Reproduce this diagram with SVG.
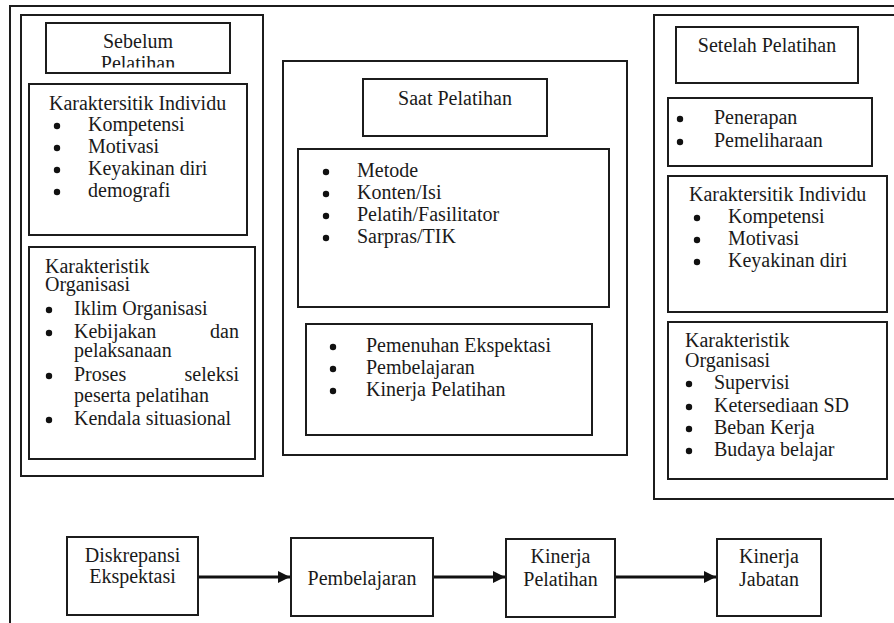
<svg xmlns="http://www.w3.org/2000/svg" width="894" height="623" viewBox="0 0 894 623">
<style>
  .bx{fill:none;stroke:#1c1c1c;stroke-width:2}
  .t{font-family:"Liberation Serif","Times New Roman",serif;font-size:20px;fill:#1a1a1a}
  .c{text-anchor:middle}
  .e{text-anchor:end}
  .dot{fill:#111}
  .ln{stroke:#111;stroke-width:3;fill:none}
</style>
<defs>
  <marker id="ah" viewBox="0 0 10 10" refX="10" refY="5" markerWidth="4" markerHeight="4" orient="auto" markerUnits="strokeWidth">
    <path d="M0,0 L10,5 L0,10 Z" fill="#111"/>
  </marker>
  <clipPath id="clipSeb"><rect x="40" y="20" width="200" height="47.5"/></clipPath>
</defs>
<rect width="894" height="623" fill="#fff"/>
<rect id="frame" class="bx" x="10" y="6" width="900" height="630"/>

<g id="panel-sebelum">
  <rect class="bx" x="21" y="15" width="242" height="461"/>
  <g id="sebelum-title">
    <rect class="bx" x="46" y="23" width="184" height="50"/>
    <g clip-path="url(#clipSeb)">
      <text class="t c" x="138" y="48">Sebelum</text>
      <text class="t c" x="138" y="70">Pelatihan</text>
    </g>
  </g>
  <g id="sebelum-individu">
    <rect class="bx" x="29" y="84" width="218" height="151"/>
    <text class="t" x="49" y="110">Karaktersitik Individu</text>
    <circle class="dot" cx="57" cy="126" r="3.2"/><text class="t" x="88" y="131">Kompetensi</text>
    <circle class="dot" cx="57" cy="148" r="3.2"/><text class="t" x="88" y="153">Motivasi</text>
    <circle class="dot" cx="57" cy="170" r="3.2"/><text class="t" x="88" y="175">Keyakinan diri</text>
    <circle class="dot" cx="57" cy="192" r="3.2"/><text class="t" x="88" y="197">demografi</text>
  </g>
  <g id="sebelum-organisasi">
    <rect class="bx" x="29" y="247" width="226" height="212"/>
    <text class="t" x="45" y="273">Karakteristik</text>
    <text class="t" x="45" y="291">Organisasi</text>
    <circle class="dot" cx="49" cy="310" r="3.2"/><text class="t" x="74" y="315">Iklim Organisasi</text>
    <circle class="dot" cx="49" cy="333" r="3.2"/><text class="t" x="74" y="338">Kebijakan</text><text class="t e" x="239" y="338">dan</text>
    <text class="t" x="74" y="357">pelaksanaan</text>
    <circle class="dot" cx="49" cy="376" r="3.2"/><text class="t" x="74" y="381">Proses</text><text class="t e" x="239" y="381">seleksi</text>
    <text class="t" x="74" y="402">peserta pelatihan</text>
    <circle class="dot" cx="49" cy="420" r="3.2"/><text class="t" x="74" y="425">Kendala situasional</text>
  </g>
</g>

<g id="panel-saat">
  <rect class="bx" x="283" y="61" width="344" height="394"/>
  <g id="saat-title">
    <rect class="bx" x="363" y="79" width="184" height="57"/>
    <text class="t c" x="455" y="105">Saat Pelatihan</text>
  </g>
  <g id="saat-faktor">
    <rect class="bx" x="298" y="149" width="311" height="158"/>
    <circle class="dot" cx="326" cy="172" r="3.2"/><text class="t" x="357" y="177">Metode</text>
    <circle class="dot" cx="326" cy="194" r="3.2"/><text class="t" x="357" y="199">Konten/Isi</text>
    <circle class="dot" cx="326" cy="216" r="3.2"/><text class="t" x="357" y="221">Pelatih/Fasilitator</text>
    <circle class="dot" cx="326" cy="238" r="3.2"/><text class="t" x="357" y="243">Sarpras/TIK</text>
  </g>
  <g id="saat-hasil">
    <rect class="bx" x="306" y="324" width="286" height="111"/>
    <circle class="dot" cx="333" cy="347" r="3.2"/><text class="t" x="366" y="352">Pemenuhan Ekspektasi</text>
    <circle class="dot" cx="333" cy="369" r="3.2"/><text class="t" x="366" y="374">Pembelajaran</text>
    <circle class="dot" cx="333" cy="391" r="3.2"/><text class="t" x="366" y="396">Kinerja Pelatihan</text>
  </g>
</g>

<g id="panel-setelah">
  <rect class="bx" x="654" y="15" width="260" height="484"/>
  <g id="setelah-title">
    <rect class="bx" x="676" y="27" width="182" height="56"/>
    <text class="t c" x="767" y="52">Setelah Pelatihan</text>
  </g>
  <g id="setelah-hasil">
    <rect class="bx" x="668" y="98" width="204" height="68"/>
    <circle class="dot" cx="680" cy="119" r="3.2"/><text class="t" x="714" y="124">Penerapan</text>
    <circle class="dot" cx="680" cy="142" r="3.2"/><text class="t" x="714" y="147">Pemeliharaan</text>
  </g>
  <g id="setelah-individu">
    <rect class="bx" x="668" y="176" width="219" height="136"/>
    <text class="t" x="689" y="201">Karaktersitik Individu</text>
    <circle class="dot" cx="697" cy="218" r="3.2"/><text class="t" x="728" y="223">Kompetensi</text>
    <circle class="dot" cx="697" cy="240" r="3.2"/><text class="t" x="728" y="245">Motivasi</text>
    <circle class="dot" cx="697" cy="262" r="3.2"/><text class="t" x="728" y="267">Keyakinan diri</text>
  </g>
  <g id="setelah-organisasi">
    <rect class="bx" x="668" y="322" width="219" height="157"/>
    <text class="t" x="685" y="347">Karakteristik</text>
    <text class="t" x="685" y="367">Organisasi</text>
    <circle class="dot" cx="689" cy="384" r="3.2"/><text class="t" x="714" y="389">Supervisi</text>
    <circle class="dot" cx="689" cy="407" r="3.2"/><text class="t" x="714" y="412">Ketersediaan SD</text>
    <circle class="dot" cx="689" cy="429" r="3.2"/><text class="t" x="714" y="434">Beban Kerja</text>
    <circle class="dot" cx="689" cy="451" r="3.2"/><text class="t" x="714" y="456">Budaya belajar</text>
  </g>
</g>

<g id="n-diskrepansi">
  <rect class="bx" x="67" y="537" width="131" height="78"/>
  <text class="t c" x="132.5" y="562">Diskrepansi</text>
  <text class="t c" x="132.5" y="583">Ekspektasi</text>
</g>
<g id="n-pembelajaran">
  <rect class="bx" x="291" y="538" width="142" height="78"/>
  <text class="t c" x="362" y="585">Pembelajaran</text>
</g>
<g id="n-kinerja-pelatihan">
  <rect class="bx" x="506" y="539" width="109" height="78"/>
  <text class="t c" x="560.5" y="563">Kinerja</text>
  <text class="t c" x="560.5" y="586">Pelatihan</text>
</g>
<g id="n-kinerja-jabatan">
  <rect class="bx" x="717" y="539" width="104" height="77"/>
  <text class="t c" x="769" y="563">Kinerja</text>
  <text class="t c" x="769" y="586">Jabatan</text>
</g>

<g id="connectors">
  <line class="ln" x1="199" y1="577" x2="290" y2="577" marker-end="url(#ah)"/>
  <line class="ln" x1="434" y1="577" x2="505" y2="577" marker-end="url(#ah)"/>
  <line class="ln" x1="616" y1="577" x2="716" y2="577" marker-end="url(#ah)"/>
</g>
</svg>
